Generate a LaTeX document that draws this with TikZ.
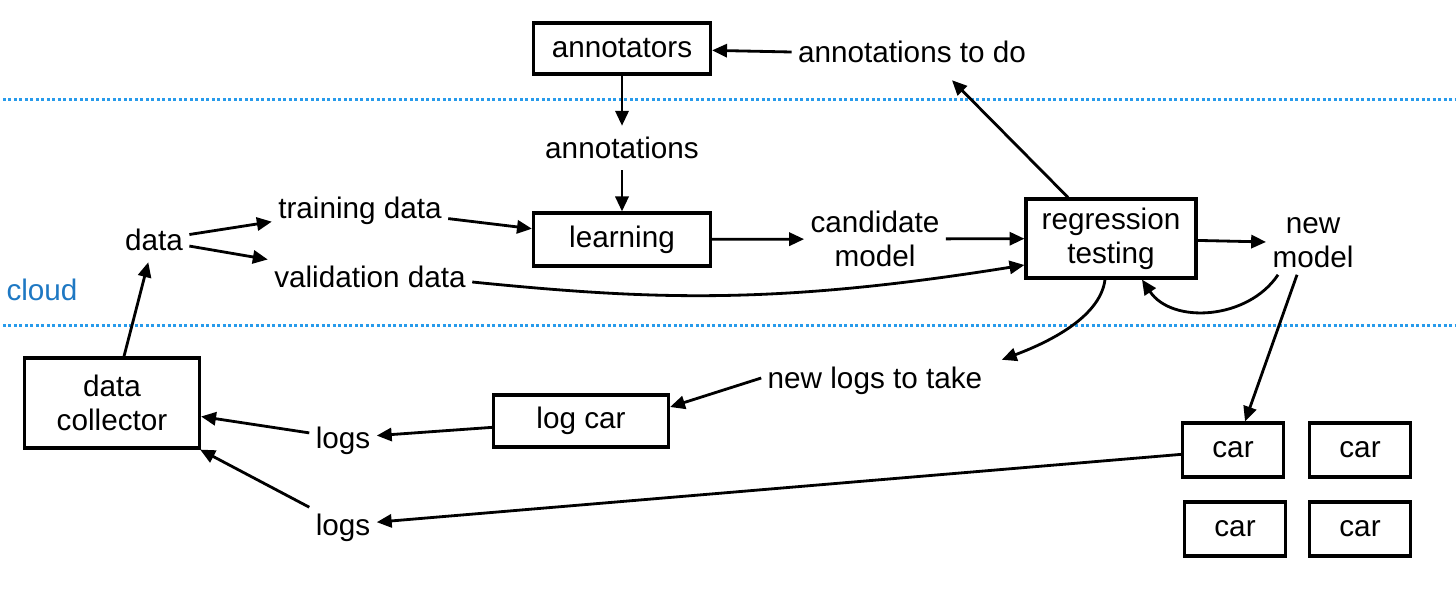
\documentclass[tikz,border=0pt]{standalone}
\usepackage{fontspec}
\setmainfont{Liberation Sans}
\usepackage{xcolor}
\definecolor{cloudblue}{RGB}{30,120,195}
\definecolor{lineblue}{RGB}{40,155,235}
\usepackage{tikz}
\usetikzlibrary{arrows.meta, positioning, calc}

\begin{document}
\begin{tikzpicture}[x=0.02cm, y=-0.02cm,
  font=\fontsize{16.9}{19.5}\selectfont,
  box/.style={draw, line width=1.8pt, inner sep=0pt, align=center},
  lbl/.style={inner xsep=3.5pt, inner ysep=4pt, text height=14.5pt, text depth=2.4pt},
  lbltwo/.style={inner sep=3.5pt, align=center},
  arr/.style={line width=1.6pt, -{Triangle[length=8.5pt,width=7.5pt]}},
  sepline/.style={lineblue, line width=0.06cm, dash pattern=on 0.06cm off 0.05cm}]
\useasboundingbox (0,0) rectangle (1456,592);
\draw[sepline] (3,99) -- (1456,99);
\draw[sepline] (3,325) -- (1456,325);
\node[lbl, text=cloudblue, anchor=west] (cloud) at (0,290) {cloud};

\node[box, minimum width=3.54cm, minimum height=1.02cm] (annot) at (622,48.5) {annotators};
\node[lbl] (todo) at (912,52) {annotations to do};
\node[lbl] (annots) at (622,148) {annotations};
\node[box, minimum width=3.54cm, minimum height=1.06cm] (learn) at (622,239.5) {learning};
\node[lbl] (data) at (154,240) {data};
\node[lbl] (tdata) at (360,208) {training data};
\node[lbl] (vdata) at (370,277) {validation data};
\node[lbltwo] (cand) at (875,239) {candidate\\model};
\node[box, minimum width=3.4cm, minimum height=1.58cm] (regr) at (1111,238.5) {regression\\testing};
\node[lbltwo] (newm) at (1313,243) {new\\model};
\node[lbl] (newlogs) at (875,378) {new logs to take};
\node[box, minimum width=3.5cm, minimum height=1.8cm] (dc) at (112,403) {data\\collector};
\node[box, minimum width=3.5cm, minimum height=1.04cm] (logcar) at (581,421) {log car};
\node[lbl] (logsa) at (343,438) {logs};
\node[lbl] (logsb) at (343,525) {logs};
\foreach \n/\x/\y in {1/1233/450, 2/1360/450, 3/1235/529, 4/1360/529}
  \node[box, minimum width=2.02cm, minimum height=1.08cm] (car\n) at (\x,\y) {car};

\draw[arr] (todo.west) -- (annot);
\draw[arr] (annot) -- (annots);
\draw[arr] (annots) -- (learn);
\draw[arr] (data) -- (tdata);
\draw[arr] (data) -- (vdata);
\draw[arr] (tdata) -- (learn);
\draw[arr] ([yshift=-0.1cm]vdata.east) .. controls +(180,18) and +(-250,40) .. ([yshift=-0.53cm]regr.west);
\draw[arr] (learn) -- (cand);
\draw[arr] (cand) -- (regr);
\draw[arr] (regr) -- (newm);
\draw[arr] ([xshift=-0.86cm]regr.north) -- ([xshift=0.8cm,yshift=-0.12cm]todo.south);
\draw[arr] ([xshift=-0.12cm]regr.south) .. controls +(-5,40) and +(40,-15) .. ([xshift=0.26cm,yshift=-0.08cm]newlogs.north east);
\draw[arr] ([xshift=-0.7cm]newm.south) .. controls +(-30,45) and +(30,45) .. ([xshift=0.62cm]regr.south);
\draw[arr] ([xshift=-0.32cm]newm.south) -- ([xshift=0.24cm]car1.north);
\draw[arr] (newlogs.west) -- ([yshift=0.28cm]logcar.east);
\draw[arr] (logcar) -- (logsa);
\draw[arr] (logsa) -- (dc);
\draw[arr] (logsb) -- (dc);
\draw[arr] (car1) -- (logsb);
\draw[arr] (dc) -- (data);
\end{tikzpicture}
\end{document}
